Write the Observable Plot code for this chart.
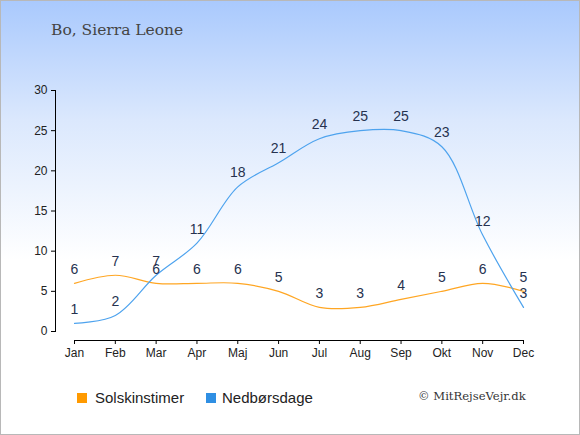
<!DOCTYPE html>
<html>
<head>
<meta charset="utf-8">
<script src="https://cdn.jsdelivr.net/npm/d3@7"></script>
<script src="https://cdn.jsdelivr.net/npm/@observablehq/plot@0.6"></script>
<style>
  html, body { margin: 0; padding: 0; background: #fff; }
  #wrap { position: relative; width: 580px; height: 435px; overflow: hidden;
          background: linear-gradient(to bottom, #a9c9fd 0px, #dbe8fd 120px, #ffffff 260px, #ffffff 435px); }
  #border { position: absolute; left: 0; top: 0; width: 580px; height: 435px; box-sizing: border-box;
            border: 1px solid #b8b8b8; pointer-events: none; }
  #title { position: absolute; left: 51px; top: 21px; font-family: "DejaVu Serif", serif; font-size: 15.5px; color: #444; white-space: nowrap; }
  #chart { position: absolute; left: 0; top: 0; }
  .leg { position: absolute; font-family: "Liberation Sans", Arial, sans-serif; font-size: 15px; color: #222; white-space: nowrap; }
  .sw { position: absolute; width: 10px; height: 10px; }
  #copy { position: absolute; left: 418px; top: 389px; font-family: "DejaVu Serif", serif; font-size: 11.6px; color: #333; white-space: nowrap; }
</style>
</head>
<body>
<div id="wrap">
  <div id="title">Bo, Sierra Leone</div>
  <div id="chart"></div>
  <div class="sw" style="left:77px; top:393px; background:#ff9a00;"></div>
  <div class="leg" style="left:95px; top:389px;">Solskinstimer</div>
  <div class="sw" style="left:206px; top:393px; background:#2f8fe3;"></div>
  <div class="leg" style="left:222px; top:389px;">Nedbørsdage</div>
  <div id="copy">© MitRejseVejr.dk</div>
  <div id="border"></div>
</div>
<script>
const months = ["Jan","Feb","Mar","Apr","Maj","Jun","Jul","Aug","Sep","Okt","Nov","Dec"];
const sunHours = [6,7,6,6,6,5,3,3,4,5,6,5];
const rainDays = [1,2,7,11,18,21,24,25,25,23,12,3];
const yTicks = [0,5,10,15,20,25,30];

const sunData = months.map((m, i) => ({month: m, value: sunHours[i]}));
const rainData = months.map((m, i) => ({month: m, value: rainDays[i]}));

const sunColor = "#ffa623";
const rainColor = "#4ea3ee";
const labelColor = "#26324f";

const chart = Plot.plot({
  width: 580,
  height: 435,
  marginLeft: 55,
  marginRight: 40,
  marginTop: 90,
  marginBottom: 95,
  style: {background: "transparent", fontFamily: "'Liberation Sans', Arial, sans-serif", fontSize: "12px", color: "#222"},
  x: {type: "point", domain: months, padding: 0, round: false, insetLeft: 19, insetRight: 17, label: null},
  y: {domain: [0, 30], insetBottom: 9, label: null},
  marks: [
    Plot.frame({anchor: "left", insetBottom: 9, stroke: "#000"}),
    Plot.frame({anchor: "bottom", insetLeft: 19, insetRight: 17, stroke: "#000"}),
    Plot.axisY({ticks: yTicks, tickSize: 4, tickPadding: 4, label: null, stroke: "#000", fill: "#222"}),
    Plot.axisX({tickSize: 4, tickPadding: 4, label: null, stroke: "#000", fill: "#222"}),
    Plot.line(sunData, {x: "month", y: "value", stroke: sunColor, strokeWidth: 1.2, curve: "catmull-rom"}),
    Plot.line(rainData, {x: "month", y: "value", stroke: rainColor, strokeWidth: 1.2, curve: "catmull-rom"}),
    Plot.text(sunData, {x: "month", y: "value", text: d => String(d.value), dy: -14, fontSize: 14, fill: labelColor}),
    Plot.text(rainData, {x: "month", y: "value", text: d => String(d.value), dy: -14, fontSize: 14, fill: labelColor})
  ]
});
document.getElementById("chart").appendChild(chart);
</script>
</body>
</html>
